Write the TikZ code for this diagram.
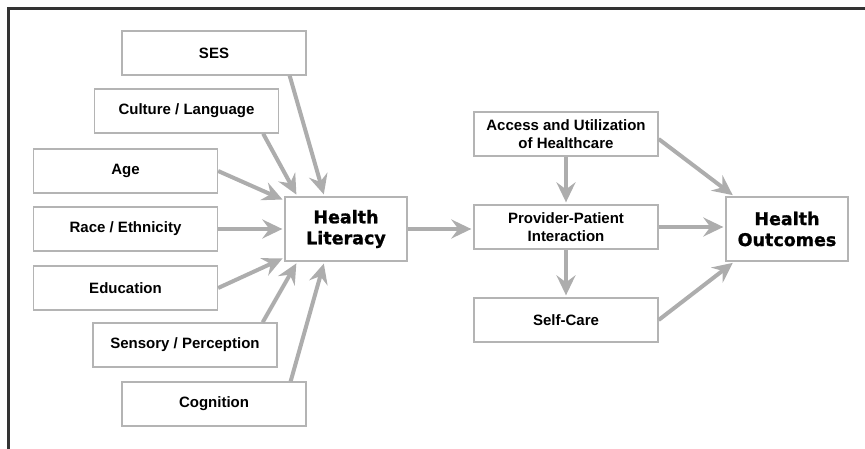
\documentclass[tikz,border=0pt]{standalone}
\usepackage{fontspec}
\setmainfont{Liberation Sans}
\newfontfamily\heavyfont[BoldFeatures={FakeBold=1.2}]{DejaVu Sans}
\usetikzlibrary{arrows.meta}
\definecolor{boxgray}{HTML}{B4B4B4}
\definecolor{arrowgray}{HTML}{ADADAD}
\definecolor{framegray}{HTML}{333333}
\tikzset{%
	factor/.style  = {draw=boxgray, line width=1.3pt, rectangle, minimum width=184pt, minimum height=44pt, inner sep=0pt, align=center, font=\fontsize{15}{18}\selectfont\bfseries},
	mainbox/.style = {draw=boxgray, line width=1.3pt, rectangle, minimum width=122pt, minimum height=64pt, inner sep=0pt, align=center, font=\heavyfont\fontsize{17.5}{21}\selectfont\bfseries},
	arrow/.style   = {draw=arrowgray, line width=4pt, -{Stealth[length=20pt,width=19pt,inset=7pt]}, shorten >=2pt},
}
\begin{document}
\begin{tikzpicture}[x=1pt,y=-1pt]
	\useasboundingbox (0,0) rectangle (865,449);
	\draw[framegray, line width=3pt] (8,449) -- (8,9) -- (865,9);  % frame
	% factors on the left
	\node[factor] (ses)  at (214,53)    {SES};
	\node[factor] (cult) at (186.5,111) {Culture / Language};
	\node[factor] (age)  at (125.5,171) {Age};
	\node[factor] (race) at (125.5,229) {Race / Ethnicity};
	\node[factor] (edu)  at (125.5,288) {Education};
	\node[factor] (sens) at (185,345)   {Sensory / Perception};
	\node[factor] (cog)  at (214,404)   {Cognition};
	\node[mainbox] (hl)  at (346,229)   {Health\\Literacy};
	% pathways on the right
	\node[factor] (acc)  at (566,134)   {Access and Utilization\\of Healthcare};
	\node[factor] (prov) at (566,227)   {Provider-Patient\\Interaction};
	\node[factor] (self) at (566,320)   {Self-Care};
	\node[mainbox] (ho)  at (787,229)   {Health\\Outcomes};
	% arrows into health literacy
	\draw[arrow] ([xshift=-17pt]ses.south east)  -- ([xshift=40pt]hl.north west);
	\draw[arrow] ([xshift=-16pt]cult.south east) -- ([xshift=13pt]hl.north west);
	\draw[arrow] (age.east)  -- ([yshift=-4pt]hl.north west);
	\draw[arrow] (race.east) -- (race.east -| hl.west);
	\draw[arrow] (edu.east)  -- ([yshift=4pt]hl.south west);
	\draw[arrow] ([xshift=-15pt]sens.north east) -- ([xshift=13pt]hl.south west);
	\draw[arrow] ([xshift=-16pt]cog.north east)  -- ([xshift=40pt]hl.south west);
	% arrows to health outcomes
	\draw[arrow] (hl.east) -- (hl.east -| prov.west);
	\draw[arrow] (acc.south)  -- (prov.north);
	\draw[arrow] (prov.south) -- (self.north);
	\draw[arrow] ([yshift=-5pt]acc.east) -- ([xshift=9pt]ho.north west);
	\draw[arrow] (prov.east)  -- (prov.east -| ho.west);
	\draw[arrow] (self.east)  -- ([xshift=9pt]ho.south west);
\end{tikzpicture}
\end{document}
